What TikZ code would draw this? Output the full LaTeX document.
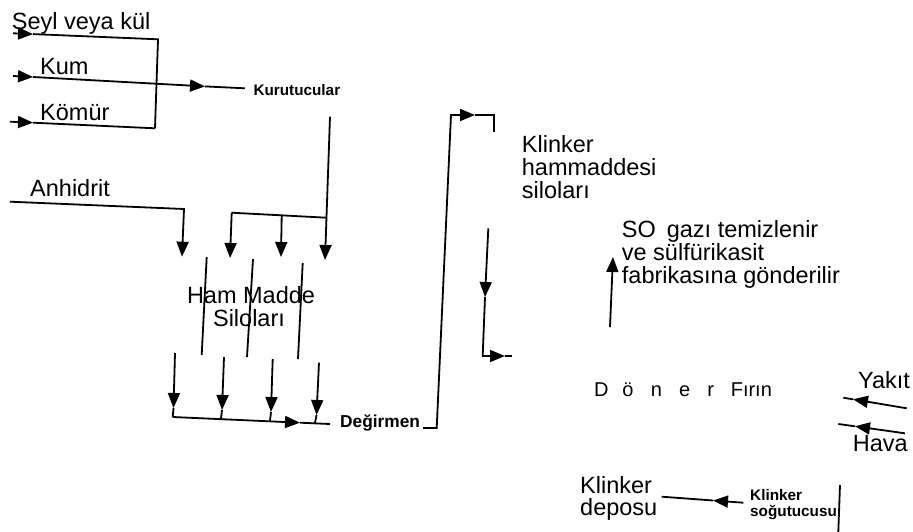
\documentclass[tikz,border=0pt]{standalone}
\usepackage{fontspec}
\setmainfont{Liberation Sans}
\usetikzlibrary{arrows.meta}
\begin{document}
\begin{tikzpicture}[x=1pt,y=-1pt,
  flow/.style={line width=1.8pt},
  head/.style={flow,-{Triangle[length=15pt,width=12pt]}},
  lbl/.style={inner sep=0pt,anchor=base west,font=\fontsize{23.5}{23.5}\selectfont},
  lblc/.style={lbl,anchor=base},
  small/.style={inner sep=0pt,anchor=base west,font=\fontsize{15.3}{15.3}\selectfont\bfseries},
  mid/.style={inner sep=0pt,anchor=base west,font=\fontsize{17.3}{17.3}\selectfont\bfseries}]
\useasboundingbox (0,0) rectangle (913,532);

% ---------- labels ----------
\node[lbl] (seyl) at (11.7,29.5) {Şeyl veya kül};
\node[lbl] (kum) at (40,75) {Kum};
\node[lbl] (komur) at (40,120.7) {Kömür};
\node[small] (kurut) at (253.3,95.7) {Kurutucular};
\node[lbl] (anh) at (30,196) {Anhidrit};
\node[lblc] (ham1) at (251,303) {Ham Madde};
\node[lblc] (ham2) at (249,326.7) {Siloları};
\node[mid] (deg) at (340,427) {Değirmen};
\node[lbl] (kh1) at (521.7,152.5) {Klinker};
\node[lbl] (kh2) at (521.7,175.5) {hammaddesi};
\node[lbl] (kh3) at (521.7,198.5) {siloları};
\node[lbl] (so1) at (621.7,237.3) {SO\hspace{11pt}gazı temizlenir};
\node[lbl] (so2) at (621.7,260.5) {ve sülfürikasit};
\node[lbl] (so3) at (621.7,283.5) {fabrikasına gönderilir};
\node[inner sep=0pt,anchor=base west,font=\fontsize{20}{20}\selectfont] (firin) at (594,396.7)
  {\makebox[28.3pt][l]{D}\makebox[28.3pt][l]{ö}\makebox[28.3pt][l]{n}\makebox[28.3pt][l]{e}\makebox[23.4pt][l]{r}Fırın};
\node[lbl] (yakit) at (858,388) {Yakıt};
\node[lbl] (hava) at (852.7,451.5) {Hava};
\node[lbl] (dep1) at (580,493.5) {Klinker};
\node[lbl] (dep2) at (580,515.5) {deposu};
\node[small] (sog1) at (750,500) {Klinker};
\node[small] (sog2) at (750,516.5) {soğutucusu};

% ---------- raw material feed ----------
\coordinate (s0) at (13,33.3);   \coordinate (s1) at (33,34.1);
\coordinate (sc) at (158,39.3);  \coordinate (sd) at (155,128.3);
\coordinate (k0) at (13,76);     \coordinate (k1) at (33,77);
\coordinate (k2) at (205,86.4);  \coordinate (k3) at (245,88.3);
\coordinate (m0) at (10,121.7);  \coordinate (m1) at (33,122.7);
\draw[head] (s0) -- (s1);
\draw[flow] (s1) -- (sc) -- (sd);
\draw[head] (k0) -- (k1);
\draw[head] (k1) -- (k2);
\draw[flow] (k2) -- (k3);
\draw[head] (m0) -- (m1);
\draw[flow] (m1) -- (sd);

% ---------- dryers to raw material silos ----------
\coordinate (d0) at (330,116.7);  \coordinate (dj) at (326.3,217.7);
\coordinate (d1) at (325,260);
\coordinate (b0) at (231.7,212.7); \coordinate (b1) at (230,258);
\coordinate (bm) at (281.7,215.4); \coordinate (b2) at (281,257);
\draw[head] (d0) -- (d1);
\draw[flow] (b0) -- (dj);
\draw[head] (b0) -- (b1);
\draw[head] (bm) -- (b2);
\coordinate (a0) at (10,201.7); \coordinate (a1) at (184,209); \coordinate (a2) at (182,256.7);
\draw[head] (a0) -- (a1) -- (a2);

% silo walls
\coordinate (w1a) at (206.7,257); \coordinate (w1b) at (201.7,355);
\coordinate (w2a) at (253,259);   \coordinate (w2b) at (247,357);
\coordinate (w3a) at (302.7,263); \coordinate (w3b) at (298,359);
\draw[flow] (w1a) -- (w1b);
\draw[flow] (w2a) -- (w2b);
\draw[flow] (w3a) -- (w3b);

% ---------- silos to mill ----------
\coordinate (o1a) at (175,353);   \coordinate (o1t) at (173.5,408); \coordinate (o1b) at (172.7,417);
\coordinate (o2a) at (224,357);   \coordinate (o2t) at (222,410);   \coordinate (o2b) at (221,418.5);
\coordinate (o3a) at (272.7,359); \coordinate (o3t) at (271,412);   \coordinate (o3b) at (270,420.7);
\coordinate (o4a) at (319,362.7); \coordinate (o4t) at (316.5,415); \coordinate (o4b) at (315,423);
\coordinate (ht) at (300,422.7);  \coordinate (he) at (330,424);
\foreach \i in {1,2,3,4}{
  \draw[head] (o\i a) -- (o\i t);
  \draw[flow] (o\i t) -- (o\i b);
}
\draw[head] (o1b) -- (ht);
\draw[flow] (ht) -- (he);

% ---------- mill to clinker raw material silos ----------
\coordinate (g0) at (423,428);  \coordinate (g1) at (436.7,428);
\coordinate (g2) at (451,115);  \coordinate (g3) at (475,115);
\coordinate (g4) at (494,115);  \coordinate (g5) at (494,132);
\draw[head] (g0) -- (g1) -- (g2) -- (g3);
\draw[flow] (g3) -- (g4) -- (g5);

\coordinate (f0) at (488.3,228.3); \coordinate (f1) at (485,297);
\coordinate (f2) at (482.7,356);   \coordinate (f3) at (505,356); \coordinate (f4) at (511.7,356);
\draw[head] (f0) -- (f1);
\draw[head] (f1) -- (f2) -- (f3);
\draw[flow] (f3) -- (f4);

% ---------- kiln ----------
\coordinate (u0) at (610,327); \coordinate (u1) at (613,257);
\draw[head] (u0) -- (u1);
\coordinate (y0) at (906.7,408.3); \coordinate (y1) at (853,399.3); \coordinate (y2) at (843.3,397.7);
\draw[head] (y0) -- (y1);
\draw[flow] (y1) -- (y2);
\coordinate (h0) at (905,433.3); \coordinate (h1) at (855,426.3); \coordinate (h2) at (838.3,424);
\draw[head] (h0) -- (h1);
\draw[flow] (h1) -- (h2);

% ---------- cooler to storage ----------
\coordinate (c0) at (743.3,502.7); \coordinate (c1) at (713,500.5); \coordinate (c2) at (661.7,496.7);
\draw[head] (c0) -- (c1);
\draw[flow] (c1) -- (c2);
\coordinate (v0) at (840,485); \coordinate (v1) at (838.3,532);
\draw[flow] (v0) -- (v1);
\end{tikzpicture}
\end{document}
